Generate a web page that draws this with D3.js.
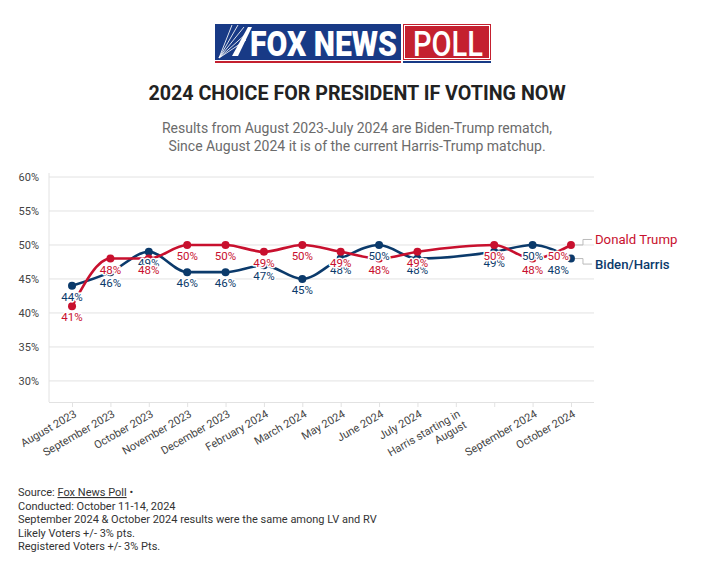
<!DOCTYPE html>
<html><head><meta charset="utf-8">
<script src="https://cdn.jsdelivr.net/npm/d3@7"></script>
<style>
body{margin:0;background:#fff;}
svg{display:block;font-family:Roboto, "Noto Sans", sans-serif;}
</style></head>
<body>
<svg id="chart" width="714" height="566"></svg>
<script>
const categories = ["August 2023","September 2023","October 2023","November 2023","December 2023","February 2024","March 2024","May 2024","June 2024","July 2024","Harris starting in\nAugust","","September 2024","October 2024"];
const trump = [41,48,48,50,50,49,50,49,48,49,null,50,48,50];
const bidenHarris = [44,46,49,46,46,47,45,48,50,48,null,49,50,48];
const seriesNames = ["Donald Trump","Biden/Harris"];
const seriesColors = ["#c8102e","#0b3a6b"];
const yTicks = [30,35,40,45,50,55,60];
const title = "2024 CHOICE FOR PRESIDENT IF VOTING NOW";
const subtitle = ["Results from August 2023-July 2024 are Biden-Trump rematch,","Since August 2024 it is of the current Harris-Trump matchup."];
const notes = ["Conducted: October 11-14, 2024","September 2024 & October 2024 results were the same among LV and RV","Likely Voters +/- 3% pts.","Registered Voters +/- 3% Pts."];

(function(){
const svg = d3.select("#chart");
const W = 714;

// ---- Logo ----
const logo = svg.append("g");
logo.append("rect").attr("x",215).attr("y",24).attr("width",186).attr("height",36).attr("fill","#183a86");
logo.append("rect").attr("x",403).attr("y",24).attr("width",88).attr("height",36).attr("fill","#c4202f");
logo.append("rect").attr("x",404.5).attr("y",25.5).attr("width",85).attr("height",33).attr("fill","none").attr("stroke","#fff").attr("stroke-width",1);
logo.append("rect").attr("x",215).attr("y",61).attr("width",186).attr("height",2).attr("fill","#c4202f");
logo.append("rect").attr("x",403).attr("y",61).attr("width",88).attr("height",2).attr("fill","#183a86");
const rays = [[232,25],[238,25],[244,27],[247,33],[246,40]];
rays.forEach(r=>logo.append("line").attr("x1",219).attr("y1",58).attr("x2",r[0]).attr("y2",r[1]).attr("stroke","#fff").attr("stroke-width",1).attr("opacity",0.85));
logo.append("path").attr("d","M232,56 L248,27 L252,27 L238,56 Z").attr("fill","#fff");
logo.append("text").attr("x",250).attr("y",56).attr("fill","#fff").attr("font-family","Roboto").attr("font-weight",900)
  .attr("font-size",35).attr("textLength",147).attr("lengthAdjust","spacingAndGlyphs").text("FOX NEWS");
logo.append("text").attr("x",413).attr("y",56).attr("fill","#fff").attr("font-family","Roboto").attr("font-weight",500)
  .attr("font-size",35).attr("textLength",70).attr("lengthAdjust","spacingAndGlyphs").text("POLL");

// ---- Title ----
svg.append("text").attr("x",W/2).attr("y",100).attr("text-anchor","middle").attr("font-size",19.7).attr("font-weight",700).attr("fill","#222").text(title);
subtitle.forEach((s,i)=>svg.append("text").attr("x",W/2).attr("y",133+i*18).attr("text-anchor","middle").attr("font-size",14).attr("fill","#6b6b6b").text(s));

// ---- Scales ----
const pL=49, pR=594, pT=177, pB=402;
const x = d3.scalePoint().domain(d3.range(categories.length)).range([pL,pR]).padding(0.6);
const y = d3.scaleLinear().domain([26.9,60]).range([pB,pT]);

svg.append("g").selectAll("line").data(yTicks).join("line")
  .attr("x1",pL).attr("x2",pR).attr("y1",d=>y(d)).attr("y2",d=>y(d)).attr("stroke","#e2e2e2").attr("stroke-width",1);
svg.append("line").attr("x1",pL).attr("x2",pL).attr("y1",pT-4).attr("y2",pB).attr("stroke","#e2e2e2");
svg.append("g").selectAll("text").data(yTicks).join("text")
  .attr("x",39).attr("y",d=>y(d)+4).attr("text-anchor","end").attr("font-size",11).attr("fill","#444").text(d=>d+"%");

const xAxis = d3.axisBottom(x).tickSize(5).tickFormat(i=>categories[i]);
const gx = svg.append("g").attr("transform",`translate(0,${pB})`).call(xAxis);
gx.select(".domain").attr("stroke","#e2e2e2").attr("d",`M${pL},0.5H${pR}`);
gx.selectAll(".tick line").attr("stroke","#e2e2e2");
gx.selectAll(".tick text").remove();
gx.selectAll(".tick").each(function(i){
  const lines = categories[i].split("\n");
  const t = d3.select(this).append("text").attr("transform","translate(3,11) rotate(-30)")
    .attr("text-anchor","end").attr("font-size",11).attr("fill","#444").attr("font-family","Roboto");
  lines.forEach((l,k)=>t.append("tspan").attr("x",0).attr("dy",k===0?"0.32em":"1.15em").text(l));
});

const series = [
  {name:seriesNames[1], color:seriesColors[1], values:bidenHarris},
  {name:seriesNames[0], color:seriesColors[0], values:trump}
];
const line = d3.line().x(d=>x(d.i)).y(d=>y(d.v)).curve(d3.curveMonotoneX);
series.forEach(s=>{
  s.pts = s.values.map((v,i)=>({i,v})).filter(d=>d.v!==null);
  svg.append("path").datum(s.pts).attr("d",line).attr("fill","none").attr("stroke",s.color).attr("stroke-width",2.6).attr("stroke-linejoin","round");
});
series.forEach(s=>{
  svg.append("g").selectAll("circle").data(s.pts).join("circle")
    .attr("cx",d=>x(d.i)).attr("cy",d=>y(d.v)).attr("r",4).attr("fill",s.color);
});
const last = categories.length-1;
series.forEach(s=>{
  svg.append("g").selectAll("text").data(s.pts).join("text")
    .attr("x",d=>d.i===last ? x(d.i)-2 : x(d.i))
    .attr("y",d=>y(d.v)+15)
    .attr("text-anchor",d=>d.i===last?"end":"middle")
    .attr("font-size",11.5).attr("fill",s.color)
    .attr("stroke","#fff").attr("stroke-width",3).attr("paint-order","stroke").attr("stroke-linejoin","round")
    .text(d=>d.v+"%");
});

const endX = x(last);
const tLast = trump[last], bLast = bidenHarris[last];
const ends = [
  {name:seriesNames[0], color:seriesColors[0], v:tLast, ly:y(tLast)-5.5, w:400},
  {name:seriesNames[1], color:seriesColors[1], v:bLast, ly:y(bLast)+5.5, w:500}
];
ends.forEach(e=>{
  svg.append("path").attr("d",`M${endX+4},${y(e.v)}H${endX+12}V${e.ly}H${endX+21}`).attr("fill","none").attr("stroke","#bbb").attr("stroke-width",1);
  svg.append("text").attr("x",endX+24).attr("y",e.ly+4.5).attr("font-size",13.2).attr("font-weight",e.w).attr("fill",e.color).text(e.name);
});

const src = svg.append("text").attr("x",18).attr("y",496).attr("font-size",11).attr("fill","#333");
src.append("tspan").text("Source: ");
src.append("tspan").attr("text-decoration","underline").text("Fox News Poll");
src.append("tspan").text(" \u2022");
notes.forEach((n,i)=>svg.append("text").attr("x",18).attr("y",509.5+i*13.5).attr("font-size",11).attr("fill","#333").text(n));
})();
</script>
</body></html>
